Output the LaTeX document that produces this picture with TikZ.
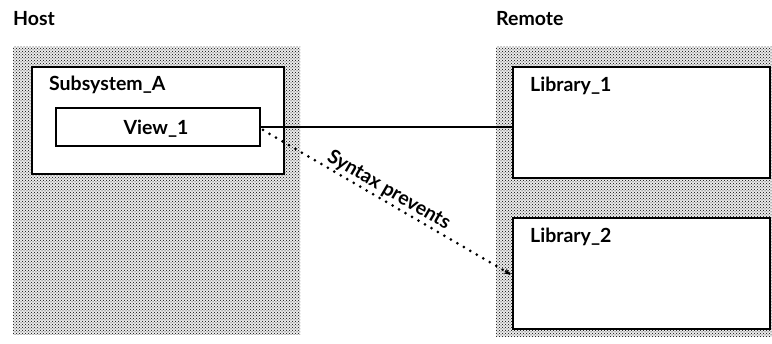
\documentclass[tikz,border=0pt]{standalone}
\usepackage{fontspec}
\setmainfont{Lato}
\usetikzlibrary{patterns,arrows.meta,calc}
\begin{document}
\begin{tikzpicture}[x=1pt,y=-1pt,
  region/.style={draw=none, fill=black!8, postaction={pattern=crosshatch dots, pattern color=black}, inner sep=0pt, outer sep=0pt, anchor=north west},
  box/.style={draw=black, line width=1.4pt, fill=white, inner sep=0pt, outer sep=0pt, anchor=north west},
  txt/.style={font=\bfseries\fontsize{19.5}{21}\selectfont},
  lbl/.style={txt, anchor=base west, inner sep=0pt},
  dotline/.style={line width=3pt, line cap=round, dash pattern=on 0pt off 7.5pt}
]
\useasboundingbox (0,0) rectangle (772,344);
% regions
\node[region, minimum width=287, minimum height=288] (host) at (13,47) {};
\node[region, minimum width=276, minimum height=290] (remote) at (496,47) {};
% boxes
\node[box, minimum width=252, minimum height=107] (subA) at (32,67) {};
\node[box, minimum width=204, minimum height=38] (view) at (56,108) {};
\node[box, minimum width=257, minimum height=111] (lib1) at (513,67) {};
\node[box, minimum width=257, minimum height=111] (lib2) at (513,218) {};
% labels
\node[lbl] (hostl) at (13,26) {Host};
\node[lbl] (remotel) at (496,26) {Remote};
\node[lbl] (subAl) at (49,91) {Subsystem\_A};
\node[lbl, anchor=base] (viewl) at (156,135) {View\_1};
\node[lbl] (lib1l) at (530,92) {Library\_1};
\node[lbl] (lib2l) at (530,243) {Library\_2};
% connectors
\coordinate (vs) at (view.east |- 0,127);
\coordinate (ls) at (lib1.west |- 0,127);
\draw[line width=1.4pt] (vs) -- (ls);
\coordinate (ds) at (263,130);
\coordinate (de) at (510,274);
\draw[dotline] (ds) -- (de) node[midway, sloped, above=1pt, txt, inner sep=0pt, xshift=-4pt] (synt) {Syntax prevents};
\draw[line width=1pt, -{Stealth[length=6pt,width=6pt]}] ($(de)!0.02!(ds)$) -- (de);
\end{tikzpicture}
\end{document}
